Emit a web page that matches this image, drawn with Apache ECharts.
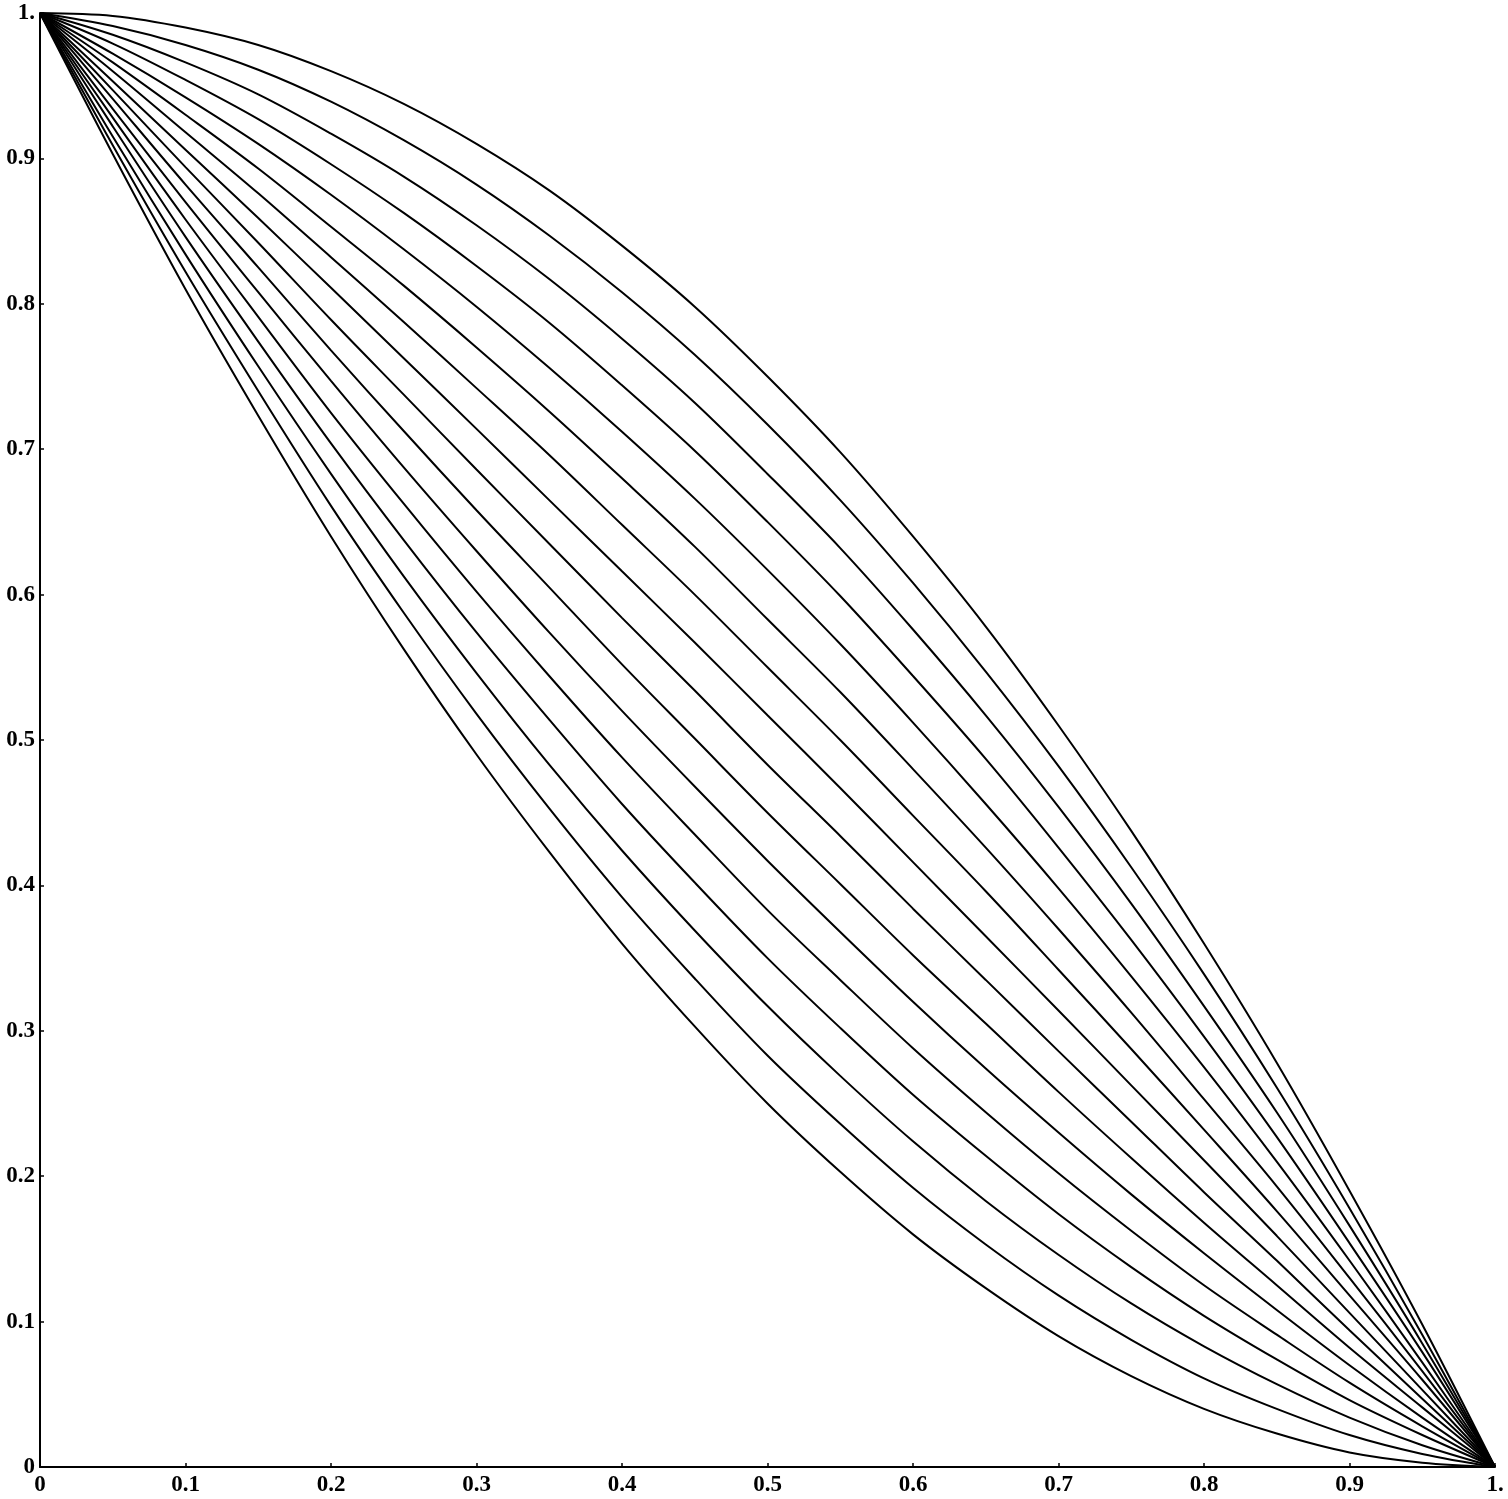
<!DOCTYPE html>
<html>
<head>
<meta charset="utf-8">
<title>curves</title>
<script src="https://cdn.jsdelivr.net/npm/echarts@6/dist/echarts.min.js"></script>
<style>
  html, body { margin: 0; padding: 0; background: #fff; }
  #chart { width: 1508px; height: 1499px; }
</style>
</head>
<body>
<div id="chart"></div>
<script>
// x positions shared by every curve
var xs = [0, 0.05, 0.1, 0.15, 0.2, 0.25, 0.3, 0.35, 0.4, 0.45, 0.5,
  0.55, 0.6, 0.65, 0.7, 0.75, 0.8, 0.85, 0.9, 0.95, 1]

// curves, top one first
var curve01 = [1, 0.998, 0.99, 0.978, 0.96, 0.9375, 0.91, 0.878, 0.84, 0.798, 0.75, 0.698, 0.64, 0.578, 0.51, 0.4375, 0.36, 0.278, 0.19, 0.098, 0]
var curve02 = [1, 0.991, 0.978, 0.961, 0.939, 0.9125, 0.882, 0.847, 0.808, 0.765, 0.717, 0.665, 0.608, 0.547, 0.482, 0.4125, 0.339, 0.261, 0.178, 0.091, 0]
var curve03 = [1, 0.985, 0.966, 0.944, 0.917, 0.8875, 0.854, 0.817, 0.776, 0.732, 0.683, 0.632, 0.576, 0.517, 0.454, 0.3875, 0.317, 0.244, 0.166, 0.085, 0]
var curve04 = [1, 0.979, 0.954, 0.927, 0.896, 0.8625, 0.826, 0.787, 0.744, 0.699, 0.65, 0.599, 0.544, 0.487, 0.426, 0.3625, 0.296, 0.227, 0.154, 0.079, 0]
var curve05 = [1, 0.972, 0.942, 0.91, 0.875, 0.8375, 0.798, 0.756, 0.712, 0.666, 0.617, 0.566, 0.512, 0.456, 0.398, 0.3375, 0.275, 0.21, 0.142, 0.072, 0]
var curve06 = [1, 0.966, 0.93, 0.893, 0.853, 0.8125, 0.77, 0.726, 0.68, 0.633, 0.583, 0.533, 0.48, 0.426, 0.37, 0.3125, 0.253, 0.193, 0.13, 0.066, 0]
var curve07 = [1, 0.96, 0.918, 0.876, 0.832, 0.7875, 0.742, 0.696, 0.648, 0.6, 0.55, 0.5, 0.448, 0.396, 0.342, 0.2875, 0.232, 0.176, 0.118, 0.06, 0]
var curve08 = [1, 0.953, 0.906, 0.859, 0.811, 0.7625, 0.714, 0.665, 0.616, 0.567, 0.517, 0.467, 0.416, 0.365, 0.314, 0.2625, 0.211, 0.159, 0.106, 0.053, 0]
var curve09 = [1, 0.947, 0.894, 0.842, 0.789, 0.7375, 0.686, 0.635, 0.584, 0.534, 0.483, 0.434, 0.384, 0.335, 0.286, 0.2375, 0.189, 0.142, 0.094, 0.047, 0]
var curve10 = [1, 0.941, 0.882, 0.825, 0.768, 0.7125, 0.658, 0.605, 0.552, 0.501, 0.45, 0.401, 0.352, 0.305, 0.258, 0.2125, 0.168, 0.125, 0.082, 0.041, 0]
var curve11 = [1, 0.934, 0.87, 0.808, 0.747, 0.6875, 0.63, 0.574, 0.52, 0.468, 0.417, 0.368, 0.32, 0.274, 0.23, 0.1875, 0.147, 0.108, 0.07, 0.034, 0]
var curve12 = [1, 0.928, 0.858, 0.791, 0.725, 0.6625, 0.602, 0.544, 0.488, 0.435, 0.383, 0.335, 0.288, 0.244, 0.202, 0.1625, 0.125, 0.091, 0.058, 0.028, 0]
var curve13 = [1, 0.922, 0.846, 0.774, 0.704, 0.6375, 0.574, 0.514, 0.456, 0.402, 0.35, 0.302, 0.256, 0.214, 0.174, 0.1375, 0.104, 0.074, 0.046, 0.022, 0]
var curve14 = [1, 0.915, 0.834, 0.757, 0.683, 0.6125, 0.546, 0.483, 0.424, 0.369, 0.317, 0.269, 0.224, 0.183, 0.146, 0.1125, 0.083, 0.057, 0.034, 0.015, 0]
var curve15 = [1, 0.909, 0.822, 0.74, 0.661, 0.5875, 0.518, 0.453, 0.392, 0.336, 0.283, 0.236, 0.192, 0.153, 0.118, 0.0875, 0.061, 0.04, 0.022, 0.009, 0]
var curve16 = [1, 0.903, 0.81, 0.723, 0.64, 0.5625, 0.49, 0.423, 0.36, 0.303, 0.25, 0.203, 0.16, 0.123, 0.09, 0.0625, 0.04, 0.023, 0.01, 0.003, 0]

var curves = [curve01, curve02, curve03, curve04, curve05, curve06, curve07, curve08,
  curve09, curve10, curve11, curve12, curve13, curve14, curve15, curve16]

// tick labels look like "0", "0.1" ... "1."
function tickLabel(v) {
  if (v === 0) return '0'
  if (v === 1) return '1.'
  return v.toFixed(1)
}

var labelFont = {
  color: '#000',
  fontFamily: 'Liberation Serif',
  fontWeight: 'bold',
  fontSize: 23
}

var chart = echarts.init(document.getElementById('chart'))
chart.setOption({
  animation: false,
  backgroundColor: '#fff',
  grid: { left: 40, right: 13, top: 13, bottom: 32, containLabel: false },
  xAxis: {
    type: 'value',
    min: 0,
    max: 1,
    interval: 0.1,
    axisLine: { show: true, lineStyle: { color: '#000', width: 2 } },
    axisTick: { show: true, inside: true, length: 4, lineStyle: { color: '#000', width: 1.5 } },
    splitLine: { show: false },
    axisLabel: Object.assign({ margin: 7, formatter: tickLabel, showMaxLabel: true, showMinLabel: true }, labelFont)
  },
  yAxis: {
    type: 'value',
    min: 0,
    max: 1,
    interval: 0.1,
    axisLine: { show: true, lineStyle: { color: '#000', width: 2 } },
    axisTick: { show: true, inside: true, length: 4, lineStyle: { color: '#000', width: 1.5 } },
    splitLine: { show: false },
    axisLabel: Object.assign({ margin: 5, formatter: tickLabel, showMaxLabel: true, showMinLabel: true }, labelFont)
  },
  series: curves.map(function (ys, i) {
    return {
      name: 'c' + (i + 1),
      type: 'line',
      smooth: 0.33,
      showSymbol: false,
      symbol: 'none',
      lineStyle: { color: '#000', width: 2 },
      data: xs.map(function (x, j) { return [x, ys[j]] })
    }
  })
})
</script>
</body>
</html>
